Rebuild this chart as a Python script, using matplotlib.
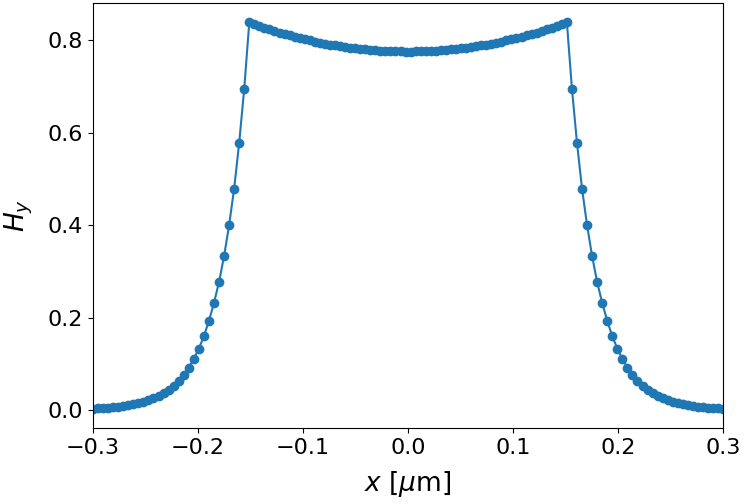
import numpy as np
import matplotlib
matplotlib.use('Agg')
import matplotlib.pyplot as plt

# sample grid across the slab (um)
x = np.linspace(-0.3, 0.3, 126)

# Hy, centre -> edge of the core (|x| < 0.15)
core = [0.7750, 0.7751, 0.7754, 0.7758, 0.7763, 0.7769, 0.7776, 0.7785,
        0.7795, 0.7807, 0.7819, 0.7833, 0.7848, 0.7865, 0.7882, 0.7901,
        0.7921, 0.7943, 0.7966, 0.7990, 0.8015, 0.8042, 0.8070, 0.8099,
        0.8129, 0.8161, 0.8194, 0.8229, 0.8265, 0.8302, 0.8341, 0.8381]
# evanescent tail, edge -> x = 0.3
tail = [0.695, 0.578, 0.479, 0.400, 0.333, 0.277, 0.232, 0.193, 0.160,
        0.133, 0.111, 0.092, 0.077, 0.064, 0.053, 0.044, 0.037, 0.031,
        0.026, 0.0215, 0.018, 0.015, 0.0125, 0.0105, 0.0088, 0.0074,
        0.0062, 0.0052, 0.0044, 0.0038, 0.0034]

hy = tail[::-1] + core[::-1] + core + tail

plt.rcParams['font.size'] = 16
fig = plt.figure(figsize=(7.44, 5.04), dpi=100)
ax = fig.add_axes([0.125, 0.151, 0.847, 0.843])
ax.plot(x, hy, 'o-')
ax.set_xlim(-0.3, 0.3)
ax.set_xlabel(r'$x$ [$\mu$m]', fontsize=19, labelpad=8)
ax.set_ylabel(r'$H_y$', fontsize=19, labelpad=9)
fig.savefig('out.png', dpi=100)
